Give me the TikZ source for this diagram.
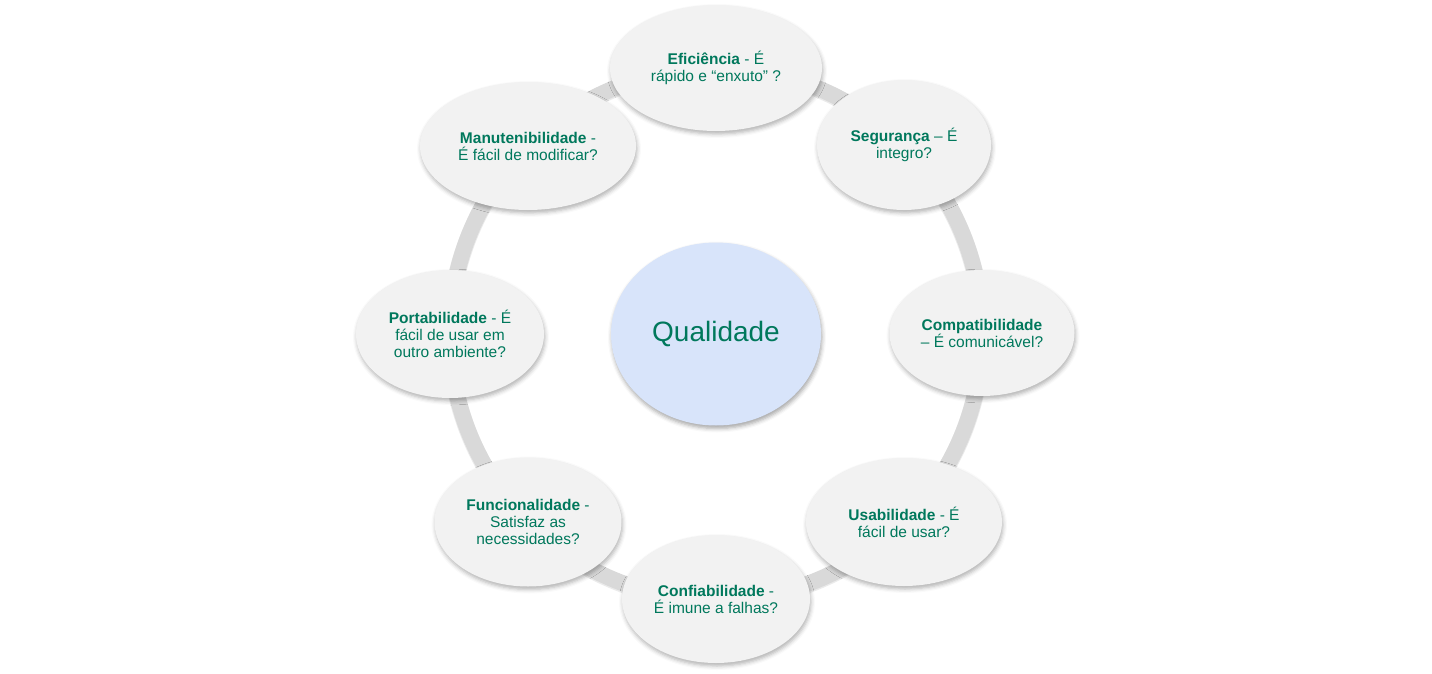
\documentclass[tikz,border=0pt]{standalone}
\usepackage{fontspec}
\setmainfont{Liberation Sans}
\usetikzlibrary{shapes.geometric,shadows.blur}
\definecolor{txtgreen}{RGB}{0,120,92}
\definecolor{bubble}{RGB}{242,242,242}
\definecolor{centerblue}{RGB}{216,228,250}
\definecolor{ringgray}{RGB}{217,217,217}
\tikzset{
  bub/.style={ellipse, fill=bubble, inner sep=0pt, align=center, text=txtgreen,
    font=\fontsize{15.5}{17}\selectfont,
    blur shadow={shadow xshift=1pt, shadow yshift=-3pt, shadow blur radius=4pt, shadow opacity=30}},
  centre/.style={ellipse, fill=centerblue, inner sep=0pt, text=txtgreen,
    font=\fontsize{28}{32}\selectfont,
    blur shadow={shadow xshift=1pt, shadow yshift=-3pt, shadow blur radius=4pt, shadow opacity=35}},
  ring/.style={draw=ringgray, line width=16pt}
}
\begin{document}
\begin{tikzpicture}[x=1pt,y=-1pt]
\useasboundingbox (0,0) rectangle (1432,674);
\coordinate (c) at (716,334);
\draw[ring, draw=black!20, line width=17pt, opacity=0.4] ([yshift=-1pt]c) circle[radius=266];
\draw[ring] (c) circle[radius=266];
\node[centre, minimum width=210pt, minimum height=183pt] (q) at (c) {Qualidade};
\node[bub, minimum width=212pt, minimum height=126pt] (efi) at (716,68) {\textbf{Eficiência} - É\\rápido e “enxuto” ?};
\node[bub, minimum width=174pt, minimum height=130pt] (seg) at (904,145) {\textbf{Segurança} – É\\integro?};
\node[bub, minimum width=185pt, minimum height=126pt] (com) at (982,333) {\textbf{Compatibilidade}\\– É comunicável?};
\node[bub, minimum width=196pt, minimum height=128pt] (usa) at (904,522) {\textbf{Usabilidade} - É\\fácil de usar?};
\node[bub, minimum width=188pt, minimum height=128pt] (con) at (716,599) {\textbf{Confiabilidade} -\\É imune a falhas?};
\node[bub, minimum width=187pt, minimum height=129pt] (fun) at (528,522) {\textbf{Funcionalidade} -\\Satisfaz as\\necessidades?};
\node[bub, minimum width=188pt, minimum height=128pt] (por) at (450,334) {\textbf{Portabilidade} - É\\fácil de usar em\\outro ambiente?};
\node[bub, minimum width=216pt, minimum height=128pt] (man) at (528,146) {\textbf{Manutenibilidade} -\\É fácil de modificar?};
\end{tikzpicture}
\end{document}
